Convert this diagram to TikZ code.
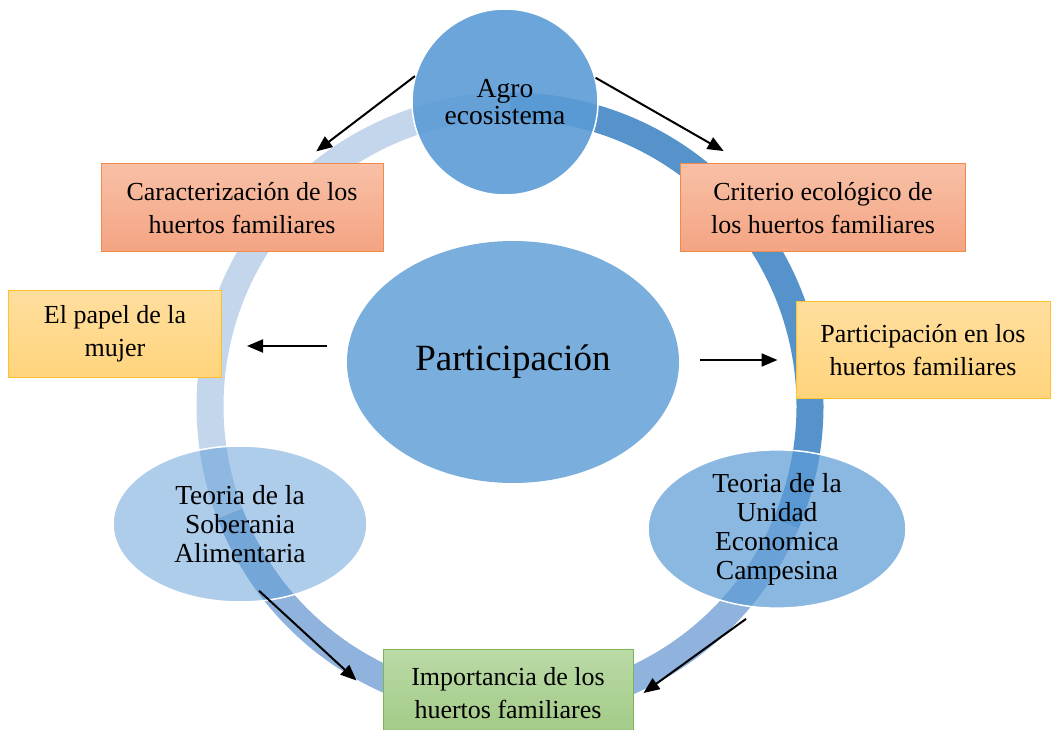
\documentclass[tikz,border=0pt]{standalone}
\usepackage{fontspec}
\setmainfont{Liberation Serif}
\usetikzlibrary{positioning,arrows.meta,shapes.geometric,calc}
\definecolor{ringlight}{HTML}{C4D6EC}
\definecolor{ringmid}{HTML}{8FB3DD}
\definecolor{ringdark}{HTML}{5693CB}
\definecolor{bubble}{HTML}{5B9BD5}
\definecolor{salmontop}{HTML}{F8C0A6}
\definecolor{salmonbot}{HTML}{F4A482}
\definecolor{salmonline}{HTML}{F08A4B}
\definecolor{goldtop}{HTML}{FFDE9E}
\definecolor{goldbot}{HTML}{FFD47C}
\definecolor{goldline}{HTML}{FFC12E}
\definecolor{leaftop}{HTML}{BADAA6}
\definecolor{leafbot}{HTML}{A2CA86}
\definecolor{leafline}{HTML}{7DB456}

\begin{document}
\begin{tikzpicture}[x=1pt,y=1pt,
    box/.style={rectangle,draw=#1line,line width=1pt,top color=#1top,bottom color=#1bot,
      align=center,inner sep=0pt,font=\fontsize{26}{33}\selectfont},
    bubble/.style={draw=white,line width=1.5pt,fill=bubble,fill opacity=#1,text opacity=1,
      align=center,inner sep=0pt,font=\fontsize{27.5}{29}\selectfont},
    arr/.style={-{Triangle[length=16pt,width=13pt]},line width=2pt}]
  \useasboundingbox (0,0) rectangle (1051,729);
  % ring behind everything
  \foreach \acol/\afrom/\ato in {ringlight/90/201,ringmid/201/337,ringdark/-23/90} {
    \draw[\acol,line width=27pt] (510,323) ++(\afrom:300) arc[start angle=\afrom,end angle=\ato,radius=300];
  }
  % bubbles
  \node[bubble=0.9,circle,minimum size=186pt,font=\fontsize{27.5}{27}\selectfont] (agro) at (505,627) {Agro\\ecosistema};
  \node[bubble=0.81,ellipse,minimum width=332pt,minimum height=242pt,draw=none,font=\fontsize{37}{44}\selectfont] (part) at (513,367) {Participación};
  \node[bubble=0.5,ellipse,minimum width=254pt,minimum height=156pt] (sob) at (240,205) {Teoria de la\\Soberania\\Alimentaria};
  \node[bubble=0.71,ellipse,minimum width=258pt,minimum height=156pt] (camp) at (777,200) {Teoria de la\\Unidad\\Economica\\Campesina};
  % boxes
  \node[box=salmon,minimum width=282pt,minimum height=88pt] (carac) at (242,521) {Caracterización de los\\huertos familiares};
  \node[box=salmon,minimum width=285pt,minimum height=88pt] (crit) at (823,521) {Criterio ecológico de\\los huertos familiares};
  \node[box=gold,minimum width=213pt,minimum height=87pt] (papel) at (115,395) {El papel de la\\mujer};
  \node[box=gold,minimum width=254pt,minimum height=97pt] (partbox) at (923,379) {Participación en los\\huertos familiares};
  \node[box=leaf,minimum width=250pt,minimum height=88pt] (imp) at (508,36) {Importancia de los\\huertos familiares};
  % arrows
  \draw[arr,shorten >=20pt] (agro.164) -- (carac);
  \draw[arr,shorten >=25pt] (agro.15) -- (crit);
  \draw[arr] ([shift={(-19,16)}]part.west) -- ([shift={(25,-12)}]papel.east);
  \draw[arr] ([shift={(20,2)}]part.east) -- ([shift={(-18,-10)}]partbox.west);
  \draw[arr] ([shift={(19,12)}]sob.south) -- ([shift={(-26,-32)}]imp.north west);
  \draw[arr] ([shift={(-31,-10)}]camp.south) -- ([shift={(10,0)}]imp.east);
\end{tikzpicture}
\end{document}
